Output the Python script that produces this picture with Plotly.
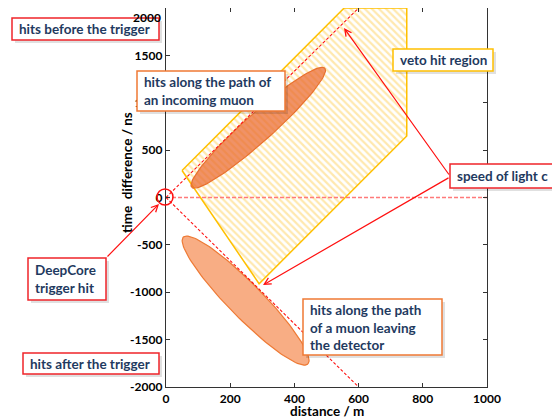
import numpy as np
import plotly.graph_objects as go

# veto hit region (distance / m, time difference / ns)
veto_x = [50, 555, 750, 750, 290, 50]
veto_t = [285, 2000, 2000, 650, -910, 285]

# muon hit ellipses, given by their two tips
incoming_x = [80, 495]
incoming_t = [108, 1365]
leaving_x = [54, 442]
leaving_t = [-418, -1758]

# speed of light lines through the trigger hit
light_x = [0, 600]
light_t_before = [0, 2000]
light_t_after = [0, -2000]
trigger_x = [0, 1000]
trigger_t = [0, 0]

x_ticks = [0, 200, 400, 600, 800, 1000]
y_ticks = [-2000, -1500, -1000, -500, 0, 500, 1000, 1500, 2000]
y_ticktext = ['-2000', '-1500', '-1000', '-500', '0', '500', '1000', '1500', '']

W, H = 560, 418
OFF = 8  # page body margin
# plot area in page pixels
L, R, T, B = 166, 487, 8, 387
SX = (R - L) / 1000.0   # px per m
SY = (B - T) / 4000.0   # px per ns


def ellipse(xs, ts, half_width_px, n=120):
    # build in pixel space so the ellipse looks right on screen
    p0 = np.array([xs[0] * SX, ts[0] * SY])
    p1 = np.array([xs[1] * SX, ts[1] * SY])
    c = (p0 + p1) / 2
    u = (p1 - p0) / 2
    a = np.hypot(*u)
    u = u / a
    v = np.array([-u[1], u[0]])
    th = np.linspace(0, 2 * np.pi, n)
    pts = c[None, :] + np.outer(a * np.cos(th), u) + np.outer(half_width_px * np.sin(th), v)
    return pts[:, 0] / SX, pts[:, 1] / SY


def px(xp):
    return (xp - L) / (R - L)


def py(yp):
    return (B - yp) / (B - T)


fig = go.Figure()

fig.add_trace(go.Scatter(
    x=veto_x, y=veto_t, mode='lines', fill='toself',
    fillcolor='white',
    fillpattern=dict(shape='\\', fgcolor='#FFD25E', bgcolor='white', size=5, solidity=0.45),
    line=dict(color='#FFC000', width=1.5), hoverinfo='skip'))

ex, ey = ellipse(leaving_x, leaving_t, 17)
fig.add_trace(go.Scatter(x=ex, y=ey, mode='lines', fill='toself',
                         fillcolor='#F8AD84', line=dict(color='#EE7A35', width=1.2),
                         hoverinfo='skip'))
ex, ey = ellipse(incoming_x, incoming_t, 14)
fig.add_trace(go.Scatter(x=ex, y=ey, mode='lines', fill='toself',
                         fillcolor='rgba(234,104,45,0.72)', line=dict(color='#E8702F', width=1.2),
                         hoverinfo='skip'))

fig.add_trace(go.Scatter(x=trigger_x, y=trigger_t, mode='lines',
                         line=dict(color='#FF7A7A', width=1.3, dash='4px,2px'), hoverinfo='skip'))
for t in (light_t_before, light_t_after):
    fig.add_trace(go.Scatter(x=light_x, y=t, mode='lines',
                             line=dict(color='#FF1010', width=1.1, dash='3px,2px'), hoverinfo='skip'))

TEXT = '#1F3A60'
RED = '#F0242A'
ORANGE = '#F07A35'
GOLD = '#FFC000'

boxes = [
    ((12, 18, 159, 40), RED, 'hits before the trigger'),
    ((137, 71, 285, 111), ORANGE, 'hits along the path of<br>an incoming muon'),
    ((393, 49, 493, 71), GOLD, 'veto hit region'),
    ((450, 164, 556, 188), RED, 'speed of light c'),
    ((28, 258, 106, 300), RED, 'DeepCore<br>trigger hit'),
    ((303, 299, 442, 355), ORANGE, 'hits along the path<br>of a muon leaving<br>the detector'),
    ((23, 353, 159, 374), RED, 'hits after the trigger'),
]

shapes = []
annotations = []
for (x0, y0, x1, y1), col, txt in boxes:
    shapes.append(dict(type='rect', xref='paper', yref='paper',
                       x0=px(x0 + 3), x1=px(x1 + 3), y0=py(y0 + 3), y1=py(y1 + 3),
                       fillcolor='rgba(0,0,0,0.12)', line=dict(width=0), layer='above'))
    shapes.append(dict(type='rect', xref='paper', yref='paper',
                       x0=px(x0), x1=px(x1), y0=py(y0), y1=py(y1),
                       fillcolor='white', line=dict(color=col, width=1.5), layer='above'))
    annotations.append(dict(xref='paper', yref='paper', x=px(x0 + 5), y=py((y0 + y1) / 2),
                            xanchor='left', yanchor='middle', align='left', showarrow=False,
                            text=txt, font=dict(family='Lato', size=13.5, color=TEXT, weight='bold')))

# circle around the trigger hit
shapes.append(dict(type='circle', xref='paper', yref='paper', xsizemode='pixel', ysizemode='pixel',
                   xanchor=px(165), yanchor=py(197), x0=-8, x1=8, y0=-8, y1=8,
                   line=dict(color='#FF1010', width=1.5), layer='above'))

# arrows: (head px, tail px)
arrows = [((344, 28), (450, 176)), ((263, 285), (450, 177)), ((159, 204), (106, 258))]
for (hx, hy), (tx, ty) in arrows:
    annotations.append(dict(xref='paper', yref='paper', x=px(hx), y=py(hy),
                            axref='pixel', ayref='pixel', ax=tx - hx, ay=ty - hy,
                            text='', showarrow=True, arrowhead=5, arrowsize=1.1,
                            arrowwidth=1.2, arrowcolor='#FF1010'))

tick_font = dict(family='Lato', size=12, color='black', weight='bold')
title_font = dict(family='Lato', size=13.5, color='black', weight='bold')

# top tick label would be cut at the page edge, keep it just inside
annotations.append(dict(xref='paper', yref='paper', x=px(163), y=1.0, xanchor='right', yanchor='top',
                        text=str(y_ticks[-1]), showarrow=False, font=tick_font))

annotations.append(dict(xref='paper', yref='paper', x=px(127), y=py(173), textangle=-90,
                        xanchor='center', yanchor='middle',
                        text='time  difference / ns', showarrow=False, font=title_font))
annotations.append(dict(xref='paper', yref='paper', x=px(327), y=py(411),
                        xanchor='center', yanchor='middle',
                        text='distance / m', showarrow=False, font=title_font))

axis_style = dict(showgrid=False, zeroline=False, ticks='inside', ticklen=4,
                  mirror='ticks', showline=True, linecolor='#333333', linewidth=1.3,
                  tickcolor='#333333', tickfont=tick_font)

fig.update_layout(
    width=W, height=H,
    margin=dict(l=L - OFF, r=W - (R - OFF), t=T - OFF, b=H - (B - OFF), autoexpand=False),
    paper_bgcolor='white', plot_bgcolor='white',
    showlegend=False,
    xaxis=dict(range=[0, 1000], tickvals=x_ticks, automargin=False, **axis_style),
    yaxis=dict(range=[-2000, 2000], tickvals=y_ticks, ticktext=y_ticktext,
               automargin=False, **axis_style),
    shapes=shapes, annotations=annotations,
)

fig.write_html("out.html")
